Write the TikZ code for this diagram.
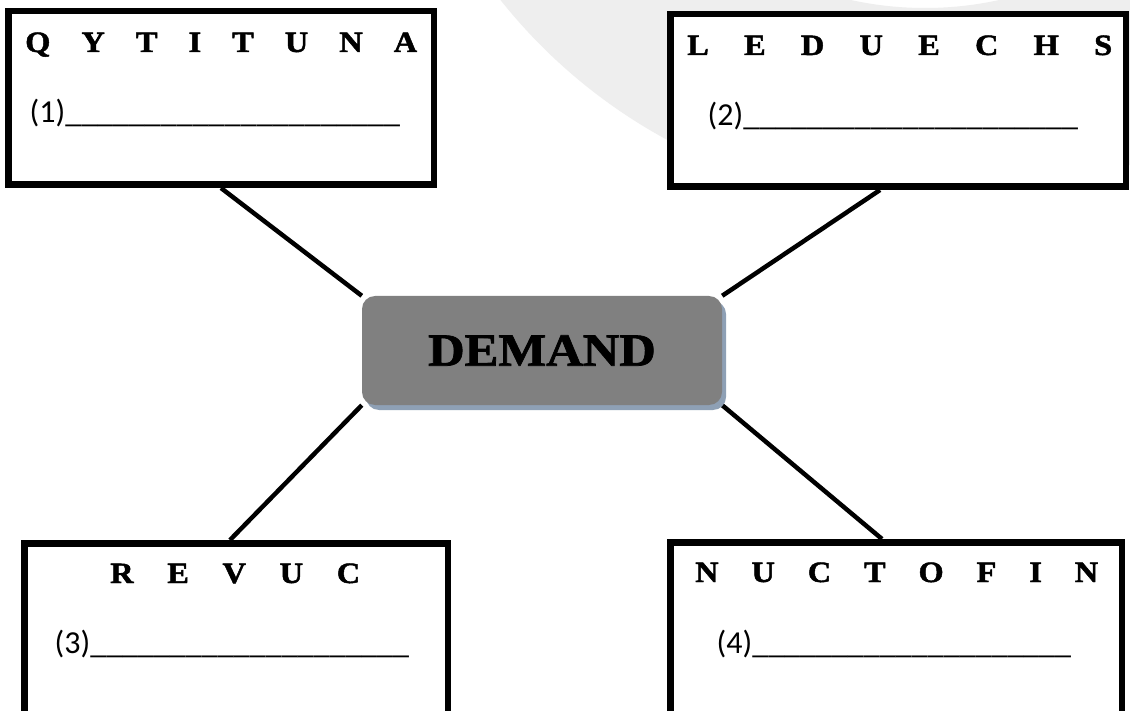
\documentclass[tikz,border=0pt]{standalone}
\usepackage{fontspec}
\newfontfamily\lettfont{Liberation Serif}[BoldFeatures={FakeBold=1.6,FakeStretch=1.1}]
\newfontfamily\ansfont{Carlito}
\usetikzlibrary{shadows,calc,backgrounds}
\definecolor{wm}{RGB}{238,238,238}
\definecolor{demandfill}{RGB}{128,128,128}
\definecolor{shadowc}{RGB}{142,160,181}
\tikzset{
  framebox/.style={draw=black, line width=6.5pt, fill=white, inner sep=0pt, anchor=north west},
  conn/.style={draw=black, line width=4.5pt},
  letters/.style={anchor=base west, inner sep=0pt, font=\lettfont\bfseries\fontsize{29.5}{32}\selectfont},
  answer/.style={anchor=base west, inner sep=0pt, font=\ansfont\fontsize{32}{36}\selectfont},
  centerbox/.style={fill=demandfill, rounded corners=13pt, minimum width=360pt, minimum height=109pt,
    inner sep=0pt, font=\lettfont\bfseries\fontsize{46}{50}\selectfont,
    drop shadow={fill=shadowc, opacity=1, shadow xshift=4pt, shadow yshift=-5pt}}
}
\begin{document}
\begin{tikzpicture}[x=1pt,y=-1pt]
\useasboundingbox (0,0) rectangle (1130,711);

% boxes
\node[framebox, minimum width=425.5pt, minimum height=173.5pt] (b1) at (5,8) {};
\node[framebox, minimum width=455.5pt, minimum height=172.5pt] (b2) at (667,11) {};
\node[framebox, minimum width=423.5pt, minimum height=300pt] (b3) at (21,540) {};
\node[framebox, minimum width=451.5pt, minimum height=300pt] (b4) at (667,539) {};

% centre
\node[centerbox] (d) at (542,350.5) {DEMAND};

% letters
\node[letters] (l1) at (25,52) {\makebox[392pt]{Q\hfill Y\hfill T\hfill I\hfill T\hfill U\hfill N\hfill A}};
\node[letters] (l2) at (687,55) {\makebox[425pt]{L\hfill E\hfill D\hfill U\hfill E\hfill C\hfill H\hfill S}};
\node[letters] (l3) at (110,583) {\makebox[250pt]{R\hfill E\hfill V\hfill U\hfill C}};
\node[letters] (l4) at (695,582) {\makebox[403pt]{N\hfill U\hfill C\hfill T\hfill O\hfill F\hfill I\hfill N}};

% answers
\node[answer] (a1) at (29.5,123) {(1)\_\_\_\_\_\_\_\_\_\_\_\_\_\_\_\_\_\_\_\_\_};
\node[answer] (a2) at (707.5,126) {(2)\_\_\_\_\_\_\_\_\_\_\_\_\_\_\_\_\_\_\_\_\_};
\node[answer] (a3) at (54.5,653) {(3)\_\_\_\_\_\_\_\_\_\_\_\_\_\_\_\_\_\_\_\_};
\node[answer] (a4) at (716.5,653) {(4)\_\_\_\_\_\_\_\_\_\_\_\_\_\_\_\_\_\_\_\_};

\begin{scope}[on background layer]
  \fill[white] (0,0) rectangle (1130,711);
  \begin{scope}
    \clip (0,0) rectangle (1130,188);
    \fill[wm, even odd rule] (925,-337) circle[radius=542pt] (925,-337) circle[radius=345pt];
  \end{scope}
  \draw[conn] (b1.south) -- (d.north west);
  \draw[conn] ($(b2.south)+(-18,0)$) -- (d.north east);
  \draw[conn] ($(b3.north)+(-6,0)$) -- (d.south west);
  \draw[conn] ($(b4.north)+(-14,0)$) -- (d.south east);
\end{scope}
\end{tikzpicture}
\end{document}
